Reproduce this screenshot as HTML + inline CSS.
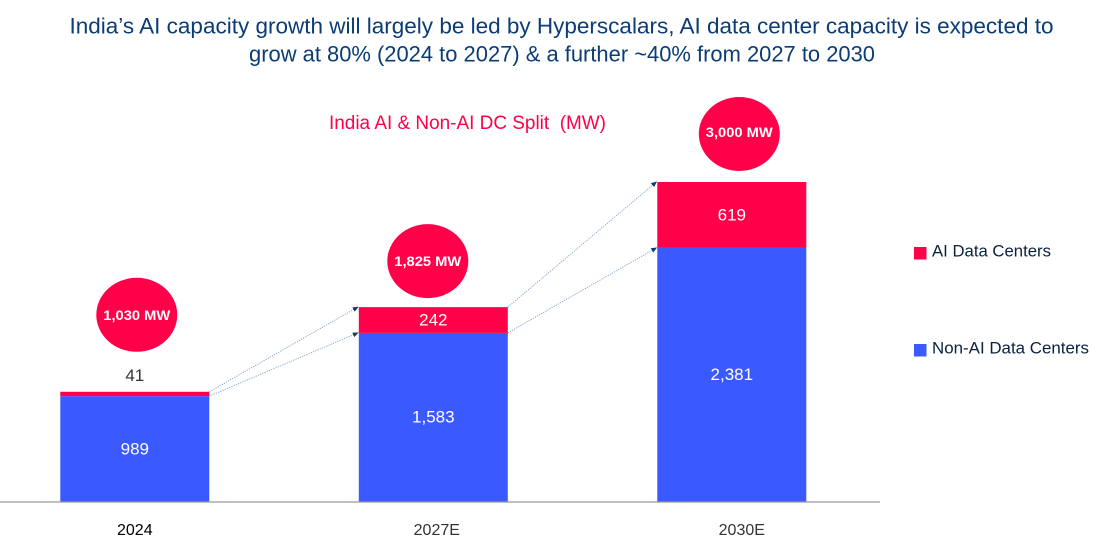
<!DOCTYPE html>
<html lang="en">
<head>
<meta charset="utf-8">
<title>India AI and Non-AI DC Split</title>
<style>
  html, body { margin: 0; padding: 0; background: #fff; }
  body { width: 1104px; height: 551px; overflow: hidden; }
  svg { display: block; font-family: "Liberation Sans", sans-serif; }
</style>
</head>
<body>
<svg id="chart" xmlns="http://www.w3.org/2000/svg" width="1104" height="551" viewBox="0 0 1104 551">
  <defs>
    <marker id="arrow-head" markerWidth="6" markerHeight="6" refX="5" refY="3" orient="auto" markerUnits="userSpaceOnUse">
      <path d="M0,0.5 L6,3 L0,5.5 Z" fill="#0b3c75"></path>
    </marker>
  </defs>
  <text x="561.5" y="33.5" text-anchor="middle" font-size="22" fill="#0b3c75" textLength="984" lengthAdjust="spacingAndGlyphs">India’s AI capacity growth will largely be led by Hyperscalars, AI data center capacity is expected to</text>
  <text x="562" y="61.5" text-anchor="middle" font-size="22" fill="#0b3c75" textLength="626" lengthAdjust="spacingAndGlyphs">grow at 80% (2024 to 2027) &amp; a further ~40% from 2027 to 2030</text>
  <text x="467.5" y="129" text-anchor="middle" font-size="19" fill="#ff0049" textLength="277" lengthAdjust="spacingAndGlyphs" xml:space="preserve">India AI &amp; Non-AI DC Split  (MW)</text>
  <g>
    <rect x="914" y="247" width="12.5" height="12.5" fill="#ff0049"></rect>
    <text x="932" y="256.5" font-size="16.5" fill="#0a2240" textLength="119" lengthAdjust="spacingAndGlyphs">AI Data Centers</text>
    <rect x="914" y="344" width="12.5" height="12.5" fill="#3a5aff"></rect>
    <text x="932" y="353.5" font-size="16.5" fill="#0a2240" textLength="157" lengthAdjust="spacingAndGlyphs">Non-AI Data Centers</text>
  </g>
  <g id="connectors"></g>
  <g id="bars"></g>
  <line x1="0" x2="880" y1="502" y2="502" stroke="#999" stroke-width="1.2"></line>
  <g id="labels"></g>
</svg>
<script>
const categories = ['2024', '2027E', '2030E'];
const nonAiValues = [989, 1583, 2381];
const aiValues = [41, 242, 619];
const totalLabels = ['1,030 MW', '1,825 MW', '3,000 MW'];
const nonAiLabels = ['989', '1,583', '2,381'];
const aiLabels = ['41', '242', '619'];

const SVG_NS = 'http://www.w3.org/2000/svg';
const RED = '#ff0049';
const BLUE = '#3a5aff';
const baselineY = 501.5;
const pxPerMw = 0.1065;
const firstBarLeft = 60.3;
const barStep = 298.5;
const barWidth = 149;

function xLeft(i) { return firstBarLeft + barStep * i; }
function xCenter(i) { return xLeft(i) + barWidth / 2; }
function yScale(v) { return baselineY - v * pxPerMw; }

function make(tag, attrs, parent, content) {
  const el = document.createElementNS(SVG_NS, tag);
  Object.keys(attrs).forEach(function (k) { el.setAttribute(k, attrs[k]); });
  if (content !== undefined) el.textContent = content;
  parent.appendChild(el);
  return el;
}

function draw() {
  const barsG = document.getElementById('bars');
  const labelsG = document.getElementById('labels');
  const connG = document.getElementById('connectors');
  const bubbleNudgeX = [2, -5.5, 7.5];
  const bubbleNudgeY = [0, 0, -2];
  const bubbleTextNudgeY = [0, 0, -2];
  const tickNudgeX = [0, 3.5, 10];
  const tickColors = ['#000', '#333', '#333'];

  categories.forEach(function (cat, i) {
    const x = xLeft(i);
    const cx = xCenter(i);
    const midY = yScale(nonAiValues[i]);
    const topY = yScale(nonAiValues[i] + aiValues[i]);

    const blue = make('rect', { x: x, y: midY, width: barWidth, height: baselineY - midY, fill: BLUE }, barsG);
    
    

    const red = make('rect', { x: x, y: topY, width: barWidth, height: midY - topY, fill: RED }, barsG);
    
    

    const nonAiText = make('text', { x: cx, y: (midY + baselineY) / 2 + 5.5, 'text-anchor': 'middle', 'font-size': 17, fill: '#fff' }, labelsG, nonAiLabels[i]);
    
    

    const thin = midY - topY < 16;
    const aiY = thin ? topY - 11 : (topY + midY) / 2 + 5.5;
    const aiText = make('text', { x: cx, y: aiY, 'text-anchor': 'middle', 'font-size': 17, fill: thin ? '#333' : '#fff' }, labelsG, aiLabels[i]);
    
    

    const bx = cx + bubbleNudgeX[i];
    const by = topY - (thin ? 77 : 46) + bubbleNudgeY[i];
    const bubble = make('ellipse', { cx: bx, cy: by, rx: 40.5, ry: 37, fill: RED }, labelsG);
    
    

    const bubbleText = make('text', { x: bx, y: by + 5 + bubbleTextNudgeY[i], 'text-anchor': 'middle', 'font-size': 13.5, 'font-weight': 'bold', fill: '#fff', textLength: 67, lengthAdjust: 'spacingAndGlyphs' }, labelsG, totalLabels[i]);
    
    

    const tick = make('text', { x: cx + tickNudgeX[i], y: 535, 'text-anchor': 'middle', 'font-size': 16, fill: tickColors[i] }, labelsG, cat);
    
    

    if (i < categories.length - 1) {
      const x1 = x + barWidth;
      const x2 = xLeft(i + 1) - 1;
      const nextMid = yScale(nonAiValues[i + 1]);
      const nextTop = yScale(nonAiValues[i + 1] + aiValues[i + 1]);
      const upper = make('line', { x1: x1, y1: topY, x2: x2, y2: nextTop, stroke: '#7f9dc0', 'stroke-width': 0.9, 'stroke-dasharray': '1.2 1.2', 'marker-end': 'url(#arrow-head)' }, connG);
      
      
      const lower = make('line', { x1: x1, y1: midY, x2: x2, y2: nextMid, stroke: '#7f9dc0', 'stroke-width': 0.9, 'stroke-dasharray': '1.2 1.2', 'marker-end': 'url(#arrow-head)' }, connG);
      
      
    }
  });
}
draw();
</script>
</body>
</html>
